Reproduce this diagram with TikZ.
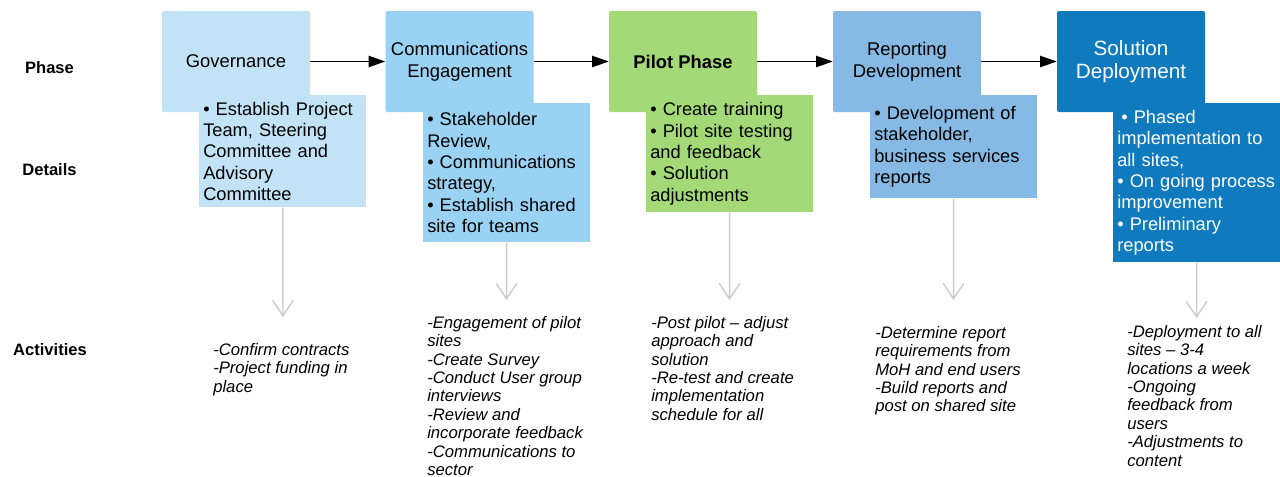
\documentclass[tikz,border=0pt]{standalone}
\usepackage{fontspec}
\setmainfont{Liberation Sans}
\usepackage{xcolor}
\usetikzlibrary{arrows.meta, positioning}

\definecolor{govblue}{HTML}{C2E3F6}
\definecolor{commblue}{HTML}{9AD2F3}
\definecolor{pilotgreen}{HTML}{A3D977}
\definecolor{repblue}{HTML}{86BAE4}
\definecolor{solblue}{HTML}{0F7BBE}
\definecolor{arrowgrey}{HTML}{CCCCCC}

\begin{document}
\begin{tikzpicture}[x=0.75pt, y=-0.75pt,
        phasebox/.style={minimum width=111pt, minimum height=75.75pt, rounded corners=1.5pt,
            inner sep=0pt, align=center, font=\fontsize{13.8}{16.5}\selectfont},
        detailbox/.style={anchor=north west, text width=119.25pt, inner xsep=3pt, inner ysep=0pt,
            align=left, font=\fontsize{13.7}{16}\selectfont},
        activity/.style={anchor=north west, inner sep=0pt, align=left,
            font=\fontsize{12.5}{13.8}\selectfont\itshape},
        rowlabel/.style={font=\fontsize{12.4}{14}\selectfont\bfseries},
        flow/.style={-{Triangle[length=12.5pt, width=8.5pt]}, line width=1pt},
        down/.style={-{Straight Barb[length=11.5pt, width=15.5pt]}, arrowgrey, line width=1.1pt}]
                \useasboundingbox (0, 0) rectangle (1280, 476);

                % row labels
                \node[rowlabel] (phaselbl) at (49.5, 68) {Phase};
                \node[rowlabel] (detaillbl) at (49.5, 170) {Details};
                \node[rowlabel] (activitylbl) at (50, 350) {Activities};

                % phases
                \node[phasebox, fill=govblue] (gov) at (236, 61.5) {Governance};
                \node[phasebox, fill=commblue] (comm) at (459.5, 61.5) {Communications\\Engagement};
                \node[phasebox, fill=pilotgreen, font=\fontsize{13.8}{16.5}\selectfont\bfseries] (pilot) at (683, 61.5) {Pilot Phase};
                \node[phasebox, fill=repblue] (rep) at (907, 61.5) {Reporting\\Development};
                \node[phasebox, fill=solblue, text=white, font=\fontsize{15.5}{17.25}\selectfont] (sol) at (1131, 61.5) {Solution\\Deployment};

                % details
                \node[detailbox, fill=govblue, minimum height=112*0.75pt] (govdet) at (199, 95)
                    {• Establish Project\\Team, Steering\\Committee and\\Advisory\\Committee};
                \node[detailbox, fill=commblue, minimum height=139*0.75pt] (commdet) at (423, 103)
                    {• Stakeholder\\Review,\\• Communications\\strategy,\\• Establish shared\\site for teams};
                \node[detailbox, fill=pilotgreen, minimum height=117*0.75pt] (pilotdet) at (646, 95)
                    {• Create training\\• Pilot site testing\\and feedback\\• Solution\\adjustments};
                \node[detailbox, fill=repblue, minimum height=103*0.75pt] (repdet) at (870, 95)
                    {• Development of\\stakeholder,\\business services\\reports};
                \node[detailbox, fill=solblue, text=white, minimum height=159*0.75pt] (soldet) at (1113, 103)
                    {\hspace{3pt}• Phased\\implementation to\\all sites,\\• On going process\\improvement\\• Preliminary\\reports};

                % activities
                \node[activity] (govact) at (213, 343)
                    {-Confirm contracts\\-Project funding in\\place};
                \node[activity] (commact) at (427, 316)
                    {-Engagement of pilot\\sites\\-Create Survey\\-Conduct User group\\interviews\\-Review and\\incorporate feedback\\-Communications to\\sector};
                \node[activity] (pilotact) at (651, 316)
                    {-Post pilot – adjust\\approach and\\solution\\-Re-test and create\\implementation\\schedule for all};
                \node[activity] (repact) at (875, 326)
                    {-Determine report\\requirements from\\MoH and end users\\-Build reports and\\post on shared site};
                \node[activity] (solact) at (1127, 325)
                    {-Deployment to all\\sites – 3-4\\locations a week\\-Ongoing\\feedback from\\users\\-Adjustments to\\content};

                \coordinate (govend) at (283, 317);
                \coordinate (commend) at (506.5, 300);
                \coordinate (pilotend) at (729.5, 300);
                \coordinate (repend) at (953.5, 300);
                \coordinate (solend) at (1196.5, 318);

                \draw[flow] (gov) -- (comm);
                \draw[flow] (comm) -- (pilot);
                \draw[flow] (pilot) -- (rep);
                \draw[flow] (rep) -- (sol);

                \draw[down] (govdet) -- (govend);
                \draw[down] (commdet) -- (commend);
                \draw[down] (pilotdet) -- (pilotend);
                \draw[down] (repdet) -- (repend);
                \draw[down] (soldet) -- (solend);
            \end{tikzpicture}
\end{document}
